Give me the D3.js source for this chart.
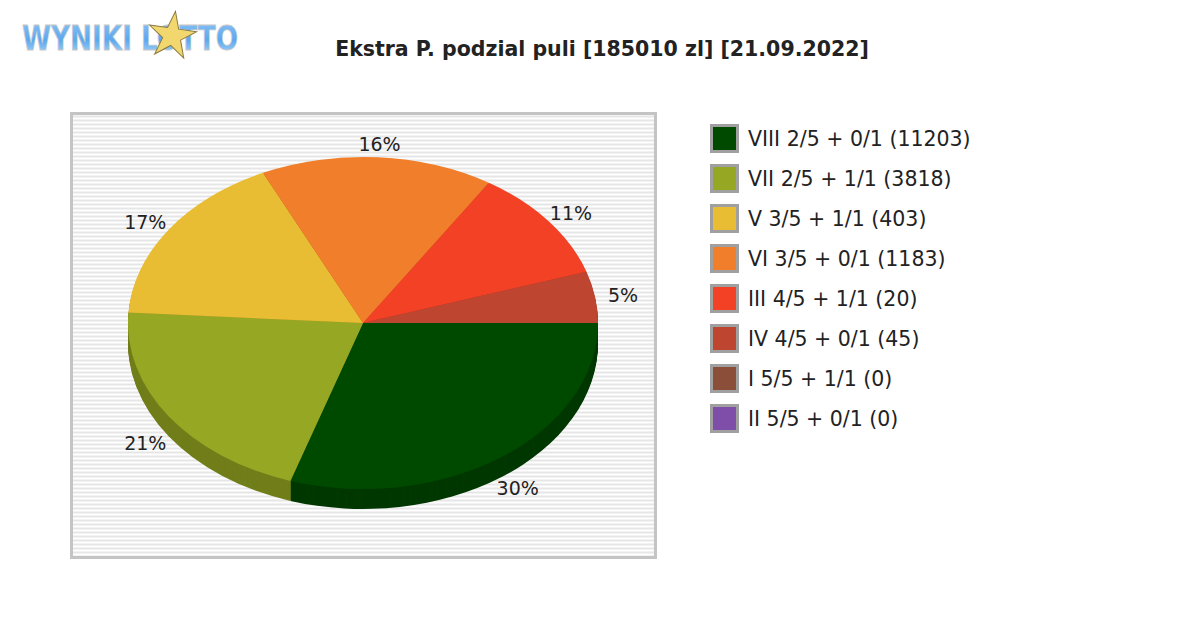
<!DOCTYPE html>
<html>
<head>
<script src="https://d3js.org/d3.v7.min.js"></script>
<style>
  body { margin: 0; background: white; }
  text { font-family: "DejaVu Sans", sans-serif; }
</style>
</head>
<body>
<svg id="chart" width="1200" height="630"></svg>
<script>
const labels = ["VIII 2/5 + 0/1 (11203)", "VII 2/5 + 1/1 (3818)", "V 3/5 + 1/1 (403)",
  "VI 3/5 + 0/1 (1183)", "III 4/5 + 1/1 (20)", "IV 4/5 + 0/1 (45)", "I 5/5 + 1/1 (0)", "II 5/5 + 0/1 (0)"];
const shares = [30, 21, 17, 16, 11, 5, 0, 0];
const colors = ["#004a00", "#96a823", "#e8bd33", "#f07e2a", "#f24125", "#be4631", "#8b4f39", "#7f4ea8"];

const svg = d3.select("#chart");

// logo
const defs = svg.append("defs");
const grad = defs.append("linearGradient").attr("id", "logo").attr("x1", 0).attr("y1", 0).attr("x2", 0).attr("y2", 1);
grad.append("stop").attr("offset", "0%").attr("stop-color", "#8fc4f5");
grad.append("stop").attr("offset", "55%").attr("stop-color", "#5aa8f0");
grad.append("stop").attr("offset", "100%").attr("stop-color", "#b8dcfa");
svg.append("text").attr("x", 22).attr("y", 50).attr("font-size", 34).attr("font-weight", "bold")
  .attr("font-family", "DejaVu Sans Condensed").attr("fill", "url(#logo)").attr("stroke", "#c8c8c8").attr("stroke-width", 0.8)
  .attr("textLength", 216).attr("lengthAdjust", "spacingAndGlyphs")
  .text("WYNIKI LOTTO");
const star = d3.symbol().type(d3.symbolStar).size(700)();
svg.append("path").attr("d", star).attr("transform", "translate(172,36) rotate(8)")
  .attr("fill", "#f2d66e").attr("stroke", "#8a7a40").attr("stroke-width", 1);

// title
svg.append("text").attr("x", 602).attr("y", 56).attr("text-anchor", "middle")
  .attr("font-size", 20.5).attr("font-weight", "bold").attr("fill", "#222")
  .text("Ekstra P. podzial puli [185010 zl] [21.09.2022]");

// plot frame with stripes
const fx = 70, fy = 112, fw = 587, fh = 447;
const frame = svg.append("g");
frame.append("rect").attr("x", fx).attr("y", fy).attr("width", fw).attr("height", fh).attr("fill", "white");
frame.selectAll("line.stripe").data(d3.range(fy + 4, fy + fh, 4))
  .join("line").attr("class", "stripe")
  .attr("x1", fx).attr("x2", fx + fw).attr("y1", d => d + 0.5).attr("y2", d => d + 0.5)
  .attr("stroke", "#e6e6e6").attr("stroke-width", 2);
frame.append("rect").attr("x", fx + 1.5).attr("y", fy + 1.5).attr("width", fw - 3).attr("height", fh - 3)
  .attr("fill", "none").attr("stroke", "#c4c4c4").attr("stroke-width", 3);

// pie
const cx = 363, cy = 323, rx = 235, ry = 166, depth = 20;
const pie = d3.pie().sort(null).value(d => d)
  .startAngle(Math.PI / 2).endAngle(Math.PI / 2 + 2 * Math.PI);
const arcs = pie(shares);
const arc = d3.arc().innerRadius(0).outerRadius(rx);

for (let k = depth; k >= 1; k--) {
  svg.append("g").attr("transform", `translate(${cx},${cy + k}) scale(1,${ry / rx})`)
    .selectAll("path").data(arcs.filter(d => d.value > 0)).join("path")
    .attr("d", arc).attr("fill", d => d3.color(colors[d.index]).darker(0.8));
}
svg.append("g").attr("transform", `translate(${cx},${cy}) scale(1,${ry / rx})`)
  .selectAll("path").data(arcs.filter(d => d.value > 0)).join("path")
  .attr("d", arc).attr("fill", d => colors[d.index]);

// percentage labels
svg.selectAll("text.pct").data(arcs.filter(d => d.value > 0)).join("text")
  .attr("class", "pct")
  .each(function (d) {
    const a = (d.startAngle + d.endAngle) / 2 - Math.PI / 2;
    const x = cx + Math.cos(a) * rx * 1.12;
    const y = cy + Math.sin(a) * ry * 1.08 + (Math.sin(a) > 0 ? depth : 0);
    d3.select(this).attr("x", x).attr("y", y).attr("dy", "0.35em").attr("text-anchor", "middle");
  })
  .attr("font-size", 19).attr("fill", "#222").text(d => d.value + "%");

// legend
const lg = svg.append("g").attr("transform", "translate(710,124)");
const item = lg.selectAll("g").data(labels).join("g")
  .attr("transform", (d, i) => `translate(0,${i * 40})`);
item.append("rect").attr("x", 1.5).attr("y", 1.5).attr("width", 26).attr("height", 26)
  .attr("fill", (d, i) => colors[i]).attr("stroke", "#a0a0a0").attr("stroke-width", 3);
item.append("text").attr("x", 38).attr("y", 22).attr("font-size", 20.5).attr("fill", "#222").text(d => d);
</script>
</body>
</html>
